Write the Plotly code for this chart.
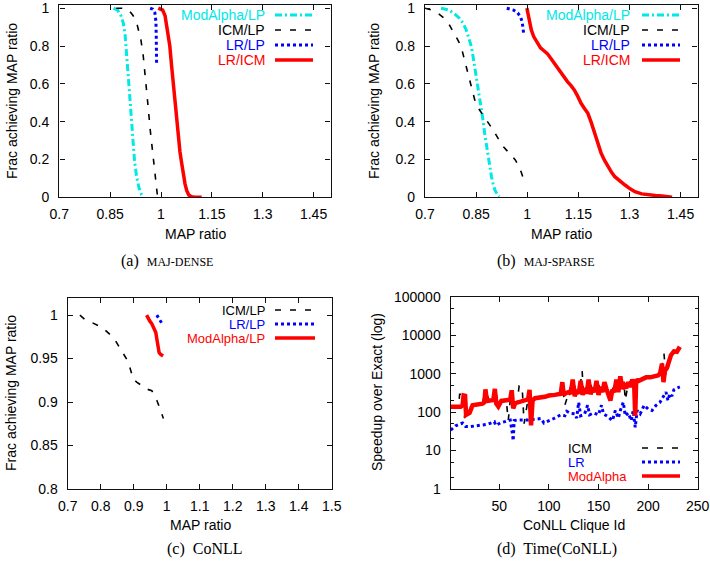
import plotly.graph_objects as go

W, H = 710, 561

# ---------------- data ----------------
# (a) MAJ-DENSE
ma_a_x = [0.86, 0.872, 0.882, 0.889, 0.894, 0.898, 0.902, 0.906, 0.91, 0.914, 0.918, 0.922, 0.928, 0.935, 0.942, 0.946]
ma_a_y = [1.0, 0.99, 0.96, 0.92, 0.86, 0.78, 0.68, 0.58, 0.48, 0.38, 0.28, 0.19, 0.11, 0.05, 0.015, 0.0]
icm_a_x = [0.868, 0.89, 0.905, 0.918, 0.93, 0.94, 0.947, 0.953, 0.958, 0.963, 0.968, 0.973, 0.978, 0.983, 0.988, 0.99]
icm_a_y = [1.0, 1.0, 0.99, 0.96, 0.91, 0.84, 0.76, 0.66, 0.56, 0.46, 0.36, 0.27, 0.18, 0.1, 0.03, 0.0]
lr_a_x = [0.968, 0.976, 0.982, 0.985, 0.986, 0.987, 0.987]
lr_a_y = [1.0, 0.995, 0.975, 0.93, 0.85, 0.77, 0.71]
lri_a_x = [0.992, 1.005, 1.012, 1.018, 1.022, 1.026, 1.031, 1.036, 1.041, 1.046, 1.051, 1.056, 1.061, 1.066, 1.071, 1.076, 1.082, 1.09, 1.1, 1.12]
lri_a_y = [1.0, 0.99, 0.96, 0.9, 0.85, 0.8, 0.7, 0.6, 0.5, 0.4, 0.31, 0.24, 0.18, 0.12, 0.07, 0.035, 0.012, 0.003, 0.0, 0.0]

# (b) MAJ-SPARSE
ma_b_x = [0.747, 0.771, 0.79, 0.801, 0.812, 0.821, 0.829, 0.836, 0.841, 0.846, 0.851, 0.856, 0.861, 0.866, 0.871, 0.875, 0.88, 0.885, 0.89, 0.895, 0.9, 0.905, 0.912, 0.918]
ma_b_y = [1.0, 0.99, 0.965, 0.947, 0.92, 0.885, 0.84, 0.797, 0.745, 0.69, 0.63, 0.568, 0.515, 0.462, 0.40, 0.339, 0.275, 0.215, 0.16, 0.11, 0.07, 0.039, 0.015, 0.003]
icm_b_x = [0.70, 0.72, 0.74, 0.756, 0.772, 0.786, 0.797, 0.806, 0.816, 0.826, 0.836, 0.846, 0.857, 0.87, 0.885, 0.9, 0.915, 0.93, 0.948, 0.965, 0.978, 0.987]
icm_b_y = [1.0, 0.99, 0.97, 0.947, 0.91, 0.868, 0.83, 0.797, 0.73, 0.656, 0.585, 0.515, 0.47, 0.436, 0.396, 0.356, 0.31, 0.268, 0.232, 0.198, 0.155, 0.109]
lr_b_x = [0.94, 0.96, 0.972, 0.98, 0.985, 0.988, 0.99]
lr_b_y = [1.0, 0.99, 0.975, 0.955, 0.93, 0.9, 0.86]
lri_b_x = [0.999, 1.002, 1.006, 1.012, 1.019, 1.029, 1.039, 1.049, 1.059, 1.069, 1.079, 1.089, 1.098, 1.108, 1.118, 1.128, 1.138, 1.148, 1.158, 1.168, 1.178, 1.188, 1.198, 1.208, 1.217, 1.227, 1.237, 1.247, 1.257, 1.272, 1.287, 1.302, 1.316, 1.336, 1.356, 1.376, 1.396, 1.41, 1.425]
lri_b_y = [1.0, 0.97, 0.93, 0.885, 0.85, 0.815, 0.79, 0.775, 0.76, 0.735, 0.71, 0.683, 0.656, 0.632, 0.612, 0.592, 0.568, 0.535, 0.497, 0.47, 0.444, 0.395, 0.339, 0.285, 0.233, 0.195, 0.162, 0.133, 0.109, 0.085, 0.065, 0.045, 0.03, 0.018, 0.012, 0.009, 0.007, 0.005, 0.0]

# (c) CoNLL
icm_c_x = [0.737, 0.752, 0.77, 0.788, 0.798, 0.81, 0.823, 0.833, 0.844, 0.854, 0.864, 0.874, 0.884, 0.892, 0.899, 0.909, 0.925, 0.939, 0.955, 0.963, 0.97, 0.978, 0.985, 0.99]
icm_c_y = [1.0, 0.995, 0.992, 0.989, 0.987, 0.984, 0.98, 0.976, 0.971, 0.965, 0.959, 0.953, 0.946, 0.935, 0.926, 0.923, 0.919, 0.915, 0.913, 0.908, 0.902, 0.894, 0.887, 0.881]
lr_c_x = [0.97, 0.975, 0.98, 0.984, 0.988]
lr_c_y = [1.0, 0.997, 0.994, 0.991, 0.989]
ma_c_x = [0.939, 0.944, 0.949, 0.955, 0.959, 0.964, 0.967, 0.969, 0.971, 0.973, 0.974, 0.977, 0.981, 0.989]
ma_c_y = [1.0, 0.996, 0.993, 0.99, 0.987, 0.984, 0.98, 0.975, 0.97, 0.964, 0.959, 0.957, 0.955, 0.953]

# (d) Time(CoNLL)
icm_d_x = [1, 9, 10, 14, 15, 16.5, 20, 23, 33, 36, 40, 42, 44, 46, 49, 52, 57, 59, 61, 64, 68, 70, 73, 75, 79, 82, 86, 96, 100, 110, 113.5, 116, 120, 124, 128, 132, 133.5, 135, 140, 144, 148, 152, 156, 160, 164, 168, 172, 176, 177, 180, 184, 186, 188, 192, 198, 204, 210, 214, 216, 218, 220, 223, 226, 229, 232]
icm_d_y = [140, 145, 290, 290, 70, 85, 100, 155, 170, 350, 200, 280, 210, 380, 150, 200, 210, 60, 200, 130, 180, 480, 470, 50, 220, 50, 235, 250, 280, 300, 550, 150, 320, 650, 330, 600, 1200, 250, 650, 400, 600, 420, 550, 270, 380, 650, 800, 450, 200, 580, 650, 480, 680, 650, 780, 800, 950, 1500, 3300, 900, 1800, 2800, 3500, 3600, 5000]
lr_d_x = [1, 6, 13, 16, 21, 28, 38, 45, 46.5, 51, 58, 61, 63, 64, 65, 68, 78, 86, 92, 95, 98, 105, 112, 116, 118, 122, 126, 128, 130, 132, 136, 139, 141, 145, 150, 153, 155, 160, 164, 167, 170, 172, 175, 177, 180, 183, 185, 187, 189, 192, 196, 200, 204, 208, 212, 214, 216, 218, 220, 222, 224, 226, 229, 232]
lr_d_y = [34, 44, 52, 42, 42, 45, 48, 56, 45, 52, 58, 62, 30, 18, 60, 62, 62, 64, 68, 52, 56, 68, 85, 80, 105, 92, 90, 70, 180, 80, 90, 150, 85, 95, 85, 150, 90, 75, 60, 110, 70, 110, 180, 80, 95, 60, 110, 40, 110, 90, 150, 120, 110, 150, 180, 220, 280, 330, 200, 300, 260, 380, 420, 450]
ma_d_x = [1, 11, 13, 14, 15.5, 16.5, 20, 23, 33, 35, 36, 37.5, 44, 45.5, 47, 49, 52, 61, 62.5, 64, 66, 79, 80.5, 82, 83.5, 86, 96, 100, 106, 110, 112, 113.5, 115, 117, 120, 122, 124, 126, 128, 130, 132, 134, 136, 138, 140, 142, 144, 146, 148, 150, 152, 154, 156, 158, 160, 162, 164, 166, 168, 170, 172, 174, 176, 178, 180, 182, 184, 186, 187, 188, 190, 194, 198, 202, 206, 210, 212, 214, 215.5, 217, 219, 221, 223, 226, 229, 232]
ma_d_y = [138, 138, 150, 270, 265, 85, 95, 150, 165, 180, 390, 195, 205, 400, 165, 140, 195, 210, 370, 125, 170, 215, 380, 45, 200, 230, 250, 270, 280, 290, 300, 600, 280, 310, 330, 300, 700, 260, 350, 300, 650, 280, 420, 300, 700, 290, 420, 330, 650, 280, 450, 330, 600, 400, 280, 200, 380, 330, 700, 330, 850, 400, 500, 420, 600, 450, 700, 500, 80, 700, 640, 700, 800, 800, 850, 900, 1000, 1800, 600, 1200, 1400, 1900, 3000, 3800, 3700, 5000]

# ---------------- styles ----------------
CYAN, BLACK, BLUE, RED = "#00e8e8", "#000000", "#0000ff", "#ff0000"
ST = {
    "ma": dict(color=CYAN, width=3, dash="7px,3px,2px,3px"),
    "icm": dict(color=BLACK, width=1.6, dash="6px,9px"),
    "lr": dict(color=BLUE, width=3, dash="3px,3px"),
    "red": dict(color=RED, width=3.5),
}
FONT = "Liberation Sans, Arial, Helvetica, sans-serif"
SERIF = "Liberation Serif, Times New Roman, serif"

fig = go.Figure()

def add(x, y, style, ax):
    fig.add_trace(go.Scatter(x=x, y=y, mode="lines", line=style,
                             xaxis="x" + ax, yaxis="y" + ax, showlegend=False,
                             hoverinfo="skip"))

add(ma_a_x, ma_a_y, ST["ma"], "")
add(icm_a_x, icm_a_y, ST["icm"], "")
add(lr_a_x, lr_a_y, ST["lr"], "")
add(lri_a_x, lri_a_y, ST["red"], "")

add(ma_b_x, ma_b_y, ST["ma"], "2")
add(icm_b_x, icm_b_y, ST["icm"], "2")
add(lr_b_x, lr_b_y, ST["lr"], "2")
add(lri_b_x, lri_b_y, ST["red"], "2")

add(icm_c_x, icm_c_y, ST["icm"], "3")
add(lr_c_x, lr_c_y, ST["lr"], "3")
add(ma_c_x, ma_c_y, ST["red"], "3")

add(icm_d_x, icm_d_y, ST["icm"], "4")
add(lr_d_x, lr_d_y, ST["lr"], "4")
add(ma_d_x, ma_d_y, dict(color=RED, width=4.5), "4")

# ---------------- axes ----------------
def xd(a, b):
    return [a / W, b / W]

def yd(top, bottom):
    return [1 - bottom / H, 1 - top / H]

common = dict(showline=True, linecolor="#111111", linewidth=1.4, mirror="ticks",
              ticks="inside", ticklen=5, tickwidth=1, tickcolor="#111111",
              showgrid=False, zeroline=False, automargin=False,
              tickfont=dict(family=FONT, size=14, color="black"))

xt_ab = [0.7, 0.85, 1.0, 1.15, 1.3, 1.45]
xt_ab_txt = ["0.7", "0.85", "1", "1.15", "1.3", "1.45"]
yt_ab = [0, 0.2, 0.4, 0.6, 0.8, 1.0]
yt_ab_txt = ["0", "0.2", "0.4", "0.6", "0.8", "1"]
xt_c = [0.7, 0.8, 0.9, 1.0, 1.1, 1.2, 1.3, 1.4, 1.5]
xt_c_txt = ["0.7", "0.8", "0.9", "1", "1.1", "1.2", "1.3", "1.4", "1.5"]
yt_c = [0.8, 0.85, 0.9, 0.95, 1.0]
yt_c_txt = ["0.8", "0.85", "0.9", "0.95", "1"]
xt_d = [50, 100, 150, 200, 250]
yt_d = [1, 10, 100, 1000, 10000, 100000]
yt_d_txt = ["1", "10", "100", "1000", "10000", "100000"]

lay = dict(
    width=W, height=H, margin=dict(l=0, r=0, t=0, b=0, pad=0, autoexpand=False),
    paper_bgcolor="white", plot_bgcolor="white", showlegend=False,
    font=dict(family=FONT, size=14, color="black"),
    xaxis=dict(common, domain=xd(59.3, 330.5), range=[0.7, 1.5], tickvals=xt_ab, ticktext=xt_ab_txt, anchor="y", ticklabelstandoff=4),
    yaxis=dict(common, domain=yd(5, 197.3), range=[0, 1.017], tickvals=yt_ab, ticktext=yt_ab_txt, anchor="x", ticklabelstandoff=6),
    xaxis2=dict(common, domain=xd(425, 697.6), range=[0.7, 1.5], tickvals=xt_ab, ticktext=xt_ab_txt, anchor="y2", ticklabelstandoff=4),
    yaxis2=dict(common, domain=yd(5, 197.3), range=[0, 1.017], tickvals=yt_ab, ticktext=yt_ab_txt, anchor="x2", ticklabelstandoff=6),
    xaxis3=dict(common, domain=xd(67.7, 331.7), range=[0.7, 1.5], tickvals=xt_c, ticktext=xt_c_txt, anchor="y3", ticklabelstandoff=4),
    yaxis3=dict(common, domain=yd(297.7, 489), range=[0.8, 1.02], tickvals=yt_c, ticktext=yt_c_txt, anchor="x3", ticklabelstandoff=6),
    xaxis4=dict(common, domain=xd(450.7, 697.7), range=[1, 250], tickvals=xt_d, anchor="y4", ticklabelstandoff=4),
    yaxis4=dict(common, domain=yd(296.7, 489), type="log", range=[0, 5], tickvals=yt_d, ticktext=yt_d_txt, anchor="x4", ticklabelstandoff=6,
                minor=dict(ticks="inside", ticklen=3, dtick="D2", tickcolor="#111111", showgrid=False)),
)
fig.update_layout(**lay)

# ---------------- text ----------------
ann = []

def txt(x, y, s, size=14, color="black", xanchor="center", angle=0, family=FONT):
    ann.append(dict(x=x / W, y=1 - y / H, xref="paper", yref="paper", text=s,
                    showarrow=False, xanchor=xanchor, yanchor="middle", textangle=angle,
                    font=dict(family=family, size=size, color=color)))

# axis titles
txt(195, 234, "MAP ratio")
txt(561, 234, "MAP ratio")
txt(200, 525, "MAP ratio")
txt(574, 525, "CoNLL Clique Id")
txt(12, 101, "Frac achieving MAP ratio", angle=-90)
txt(374, 101, "Frac achieving MAP ratio", angle=-90)
txt(11, 393, "Frac achieving MAP ratio", angle=-90)
txt(377, 392, "Speedup over Exact (log)", angle=-90)

# captions
sc = "<span style='font-size:12px'>%s</span>"
txt(167, 261, "(a)  " + sc % "MAJ-DENSE", size=16, family=SERIF)
txt(546, 261, "(b)  " + sc % "MAJ-SPARSE", size=16, family=SERIF)
txt(205, 549, "(c)  CoNLL", size=16, family=SERIF)
txt(557, 549, "(d)  Time(CoNLL)", size=16, family=SERIF)

# legends (gnuplot style: text then sample)
shapes = []

def key(xr, y, label, color, style, x0, x1, left=False, size=14):
    txt(xr, y, label, color=color, xanchor="left" if left else "right", size=size)
    shapes.append(dict(type="line", xref="paper", yref="paper",
                       x0=x0 / W, x1=x1 / W, y0=1 - y / H, y1=1 - y / H,
                       line=style))

key(267, 15, "ModAlpha/LP", CYAN, ST["ma"], 275, 313)
key(267, 30, "ICM/LP", BLACK, ST["icm"], 275, 313)
key(267, 45, "LR/LP", BLUE, ST["lr"], 275, 313)
key(267, 60, "LR/ICM", RED, ST["red"], 275, 313)

key(632, 15, "ModAlpha/LP", CYAN, ST["ma"], 642, 680)
key(632, 30, "ICM/LP", BLACK, ST["icm"], 642, 680)
key(632, 45, "LR/LP", BLUE, ST["lr"], 642, 680)
key(632, 60, "LR/ICM", RED, ST["red"], 642, 680)

key(267, 310, "ICM/LP", BLACK, ST["icm"], 275, 315, size=13)
key(267, 324, "LR/LP", BLUE, ST["lr"], 275, 315, size=13)
key(267, 338, "ModAlpha/LP", RED, ST["red"], 275, 315, size=13)

key(566, 448, "ICM", BLACK, ST["icm"], 642, 680, left=True, size=13)
key(566, 462, "LR", BLUE, ST["lr"], 642, 680, left=True, size=13)
key(566, 476, "ModAlpha", RED, ST["red"], 642, 680, left=True, size=13)

fig.update_layout(annotations=ann, shapes=shapes)
fig.write_html("out.html")
